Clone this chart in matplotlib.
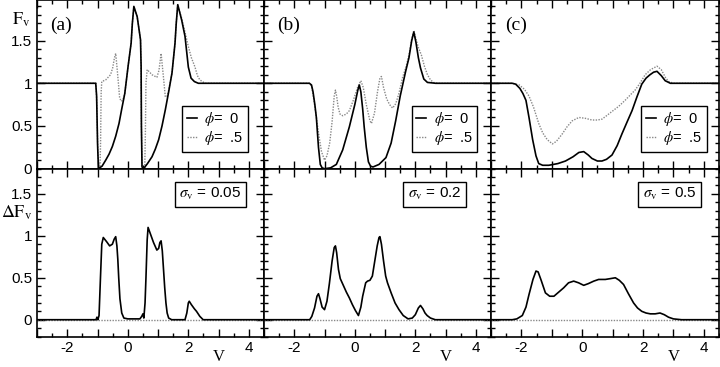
import matplotlib
matplotlib.use("Agg")
import matplotlib.pyplot as plt
from matplotlib.ticker import MultipleLocator, FuncFormatter
from matplotlib.lines import Line2D

plt.rcParams['font.family'] = ['Liberation Sans', 'DejaVu Sans']
plt.rcParams['mathtext.fontset'] = 'stix'

# ---------------- data ----------------
# Panel (a) top: sigma_v = 0.05
a_top_phi0_x = [-3.0, -1.06, -1.03, -1.0, -0.97, -0.85, -0.73, -0.62, -0.51, -0.4, -0.29, -0.2, -0.1,
                0.01, 0.11, 0.15, 0.2, 0.31, 0.42, 0.44, 0.45, 0.47, 0.52, 0.65, 0.8, 0.91, 1.02,
                1.13, 1.24, 1.35, 1.46, 1.56, 1.6, 1.65, 1.78, 1.89, 2.0, 2.09, 2.2, 2.33, 4.5]
a_top_phi0_y = [1.0, 1.0, 0.85, 0.3, 0.0, 0.03, 0.10, 0.17, 0.26, 0.38, 0.53, 0.7, 0.88,
                1.2, 1.47, 1.7, 1.9, 1.78, 1.51, 1.2, 0.5, 0.02, 0.0, 0.06, 0.14, 0.23, 0.34,
                0.5, 0.69, 0.9, 1.12, 1.47, 1.7, 1.92, 1.74, 1.55, 1.19, 1.06, 1.02, 1.0, 1.0]
a_top_phi5_x = [-3.0, -1.05, -1.02, -0.99, -0.96, -0.92, -0.9, -0.88, -0.86, -0.73, -0.57, -0.5, -0.44,
                -0.4, -0.36, -0.31, -0.27, -0.22, -0.17, -0.13, -0.1, 0.01, 0.11, 0.15, 0.2, 0.31,
                0.42, 0.44, 0.45, 0.47, 0.52, 0.56, 0.58, 0.6, 0.64, 0.8, 0.96, 1.03, 1.1, 1.17, 1.24,
                1.3, 1.35, 1.46, 1.56, 1.6, 1.65, 1.78, 1.89, 2.0, 2.1, 2.22, 2.3, 2.38, 2.55, 4.5]
a_top_phi5_y = [1.0, 1.0, 0.7, 0.2, 0.02, 0.0, 0.3, 0.9, 1.02, 1.04, 1.1, 1.18, 1.3,
                1.35, 1.2, 1.0, 0.83, 0.79, 0.8, 0.84, 0.88, 1.2, 1.47, 1.7, 1.9, 1.78,
                1.51, 1.2, 0.5, 0.02, 0.0, 0.01, 0.4, 1.0, 1.16, 1.1, 1.07, 1.15, 1.35, 1.1, 0.84,
                0.85, 0.92, 1.12, 1.47, 1.7, 1.92, 1.76, 1.6, 1.43, 1.3, 1.19, 1.09, 1.04, 1.0, 1.0]

# Panel (b) top: sigma_v = 0.2
b_top_phi0_x = [-3.0, -1.5, -1.43, -1.38, -1.32, -1.27, -1.2, -1.14, -1.08, -1.0, -0.8, -0.61, -0.4,
                -0.18, 0.0, 0.1, 0.15, 0.2, 0.26, 0.31, 0.38, 0.45, 0.52, 0.6, 0.8, 1.03, 1.2, 1.35,
                1.5, 1.68, 1.79, 1.88, 1.95, 2.02, 2.1, 2.17, 2.28, 2.4, 2.67, 4.5]
b_top_phi0_y = [1.0, 1.0, 0.98, 0.9, 0.75, 0.6, 0.25, 0.05, 0.01, 0.0, 0.01, 0.05, 0.22,
                0.49, 0.75, 0.92, 0.98, 0.9, 0.7, 0.49, 0.25, 0.08, 0.03, 0.02, 0.05, 0.13, 0.3, 0.56,
                0.85, 1.14, 1.3, 1.5, 1.6, 1.48, 1.3, 1.18, 1.05, 1.01, 1.0, 1.0]
b_top_phi5_x = [-3.0, -1.5, -1.43, -1.35, -1.25, -1.17, -1.1, -1.0, -0.92, -0.83, -0.75, -0.68, -0.64,
                -0.6, -0.55, -0.49, -0.4, -0.28, -0.18, -0.05, 0.1, 0.2, 0.28, 0.38, 0.5, 0.55, 0.65,
                0.75, 0.83, 0.88, 0.95, 1.05, 1.15, 1.25, 1.35, 1.45, 1.58, 1.7, 1.8, 1.88, 1.95, 2.02,
                2.1, 2.2, 2.3, 2.4, 2.5, 2.6, 2.75, 4.5]
b_top_phi5_y = [1.0, 1.0, 0.97, 0.8, 0.55, 0.35, 0.2, 0.1, 0.15, 0.3, 0.55, 0.85, 0.92,
                0.85, 0.72, 0.64, 0.62, 0.64, 0.68, 0.8, 0.96, 1.03, 0.95, 0.75, 0.56, 0.53, 0.65,
                0.9, 1.06, 1.08, 0.95, 0.82, 0.75, 0.71, 0.76, 0.87, 1.07, 1.2, 1.35, 1.52, 1.62, 1.52,
                1.42, 1.33, 1.2, 1.1, 1.04, 1.01, 1.0, 1.0]

# Panel (c) top: sigma_v = 0.5
c_top_phi0_x = [-3.0, -2.3, -2.19, -2.05, -1.95, -1.85, -1.75, -1.63, -1.52, -1.43, -1.3, -1.1, -0.8,
                -0.55, -0.3, -0.11, 0.05, 0.2, 0.32, 0.5, 0.65, 0.8, 0.98, 1.15, 1.31, 1.48, 1.64, 1.8,
                1.96, 2.1, 2.23, 2.35, 2.46, 2.6, 2.73, 2.9, 3.06, 4.5]
c_top_phi0_y = [1.0, 1.0, 0.99, 0.94, 0.88, 0.8, 0.6, 0.34, 0.15, 0.06, 0.04, 0.04, 0.06,
                0.09, 0.14, 0.19, 0.2, 0.16, 0.12, 0.09, 0.09, 0.11, 0.16, 0.27, 0.41, 0.55, 0.68, 0.84,
                0.99, 1.06, 1.1, 1.13, 1.14, 1.09, 1.03, 1.0, 1.0, 1.0]
c_top_phi5_x = [-3.0, -2.3, -2.07, -1.9, -1.75, -1.6, -1.43, -1.3, -1.15, -0.98, -0.85, -0.65, -0.5,
                -0.33, -0.11, 0.1, 0.32, 0.5, 0.65, 0.8, 0.98, 1.2, 1.41, 1.6, 1.74, 1.9, 2.07, 2.25,
                2.46, 2.6, 2.75, 2.85, 3.0, 4.5]
c_top_phi5_y = [1.0, 1.0, 0.98, 0.93, 0.85, 0.72, 0.53, 0.42, 0.34, 0.29, 0.32, 0.41, 0.49,
                0.56, 0.6, 0.59, 0.57, 0.57, 0.58, 0.62, 0.67, 0.73, 0.8, 0.87, 0.92, 1.0, 1.1, 1.16,
                1.2, 1.16, 1.06, 1.02, 1.0, 1.0]

# Bottom panels: Delta F_v
a_bot_x = [-3.0, -1.05, -1.02, -0.99, -0.95, -0.9, -0.86, -0.81, -0.7, -0.6, -0.51, -0.45, -0.4,
           -0.36, -0.33, -0.3, -0.26, -0.2, -0.13, 0.0, 0.4, 0.46, 0.5, 0.53, 0.57, 0.6, 0.64, 0.67,
           0.75, 0.85, 0.96, 1.02, 1.06, 1.1, 1.14, 1.18, 1.22, 1.26, 1.3, 1.35, 1.45, 1.89, 1.95,
           2.0, 2.03, 2.1, 2.2, 2.27, 2.38, 2.49, 4.5]
a_bot_y = [0.0, 0.0, 0.03, 0.0, 0.05, 0.53, 0.9, 0.98, 0.93, 0.88, 0.9, 0.96, 0.99,
           0.88, 0.72, 0.5, 0.25, 0.08, 0.02, 0.01, 0.01, 0.04, 0.07, 0.02, 0.2, 0.5, 0.95, 1.1,
           1.02, 0.92, 0.83, 0.85, 0.92, 0.94, 0.82, 0.6, 0.38, 0.2, 0.08, 0.02, 0.0, 0.0, 0.08,
           0.2, 0.22, 0.18, 0.13, 0.1, 0.04, 0.0, 0.0]
b_bot_x = [-3.0, -1.49, -1.42, -1.33, -1.25, -1.2, -1.15, -1.08, -1.0, -0.92, -0.84, -0.75, -0.68,
           -0.64, -0.6, -0.54, -0.48, -0.38, -0.28, -0.18, -0.08, 0.02, 0.12, 0.2, 0.26, 0.31,
           0.36, 0.42, 0.5, 0.58, 0.66, 0.74, 0.8, 0.83, 0.88, 0.95, 1.02, 1.08, 1.2, 1.33, 1.46,
           1.6, 1.76, 1.9, 2.0, 2.1, 2.17, 2.25, 2.32, 2.39, 2.5, 2.66, 4.5]
b_bot_y = [0.0, 0.0, 0.04, 0.14, 0.28, 0.31, 0.25, 0.15, 0.12, 0.22, 0.43, 0.7, 0.86,
           0.88, 0.8, 0.6, 0.49, 0.41, 0.33, 0.26, 0.18, 0.11, 0.05, 0.15, 0.28, 0.36,
           0.44, 0.46, 0.47, 0.52, 0.7, 0.88, 0.98, 0.99, 0.9, 0.7, 0.52, 0.44, 0.32, 0.2, 0.12,
           0.05, 0.01, 0.02, 0.06, 0.14, 0.17, 0.13, 0.08, 0.05, 0.02, 0.0, 0.0]
c_bot_x = [-3.0, -2.3, -2.15, -1.97, -1.85, -1.75, -1.62, -1.52, -1.45, -1.35, -1.21, -1.07, -0.93,
           -0.77, -0.61, -0.45, -0.28, -0.12, 0.05, 0.2, 0.38, 0.54, 0.76, 0.93, 1.09, 1.22, 1.36,
           1.52, 1.69, 1.82, 1.96, 2.1, 2.24, 2.4, 2.56, 2.7, 2.84, 3.0, 3.27, 4.5]
c_bot_y = [0.0, 0.0, 0.01, 0.05, 0.15, 0.3, 0.48, 0.58, 0.57, 0.47, 0.32, 0.28, 0.28,
           0.33, 0.38, 0.44, 0.46, 0.44, 0.41, 0.43, 0.46, 0.48, 0.48, 0.49, 0.5, 0.47, 0.42,
           0.31, 0.2, 0.14, 0.1, 0.08, 0.07, 0.07, 0.08, 0.06, 0.03, 0.01, 0.0, 0.0]

panel_labels = ['(a)', '(b)', '(c)']
sigma_labels = ['0.05', '0.2', '0.5']
legend_labels = [r'$\phi$=  0', r'$\phi$=  .5']

top_data = [(a_top_phi0_x, a_top_phi0_y, a_top_phi5_x, a_top_phi5_y),
            (b_top_phi0_x, b_top_phi0_y, b_top_phi5_x, b_top_phi5_y),
            (c_top_phi0_x, c_top_phi0_y, c_top_phi5_x, c_top_phi5_y)]
bot_data = [(a_bot_x, a_bot_y), (b_bot_x, b_bot_y), (c_bot_x, c_bot_y)]

# ---------------- figure ----------------
W, H = 720, 367
fig = plt.figure(figsize=(W / 100, H / 100), dpi=100)

lefts = [37, 264, 491]
rights = [264, 491, 719]
top_y0, top_y1 = 0, 168.7
bot_y0, bot_y1 = 168.7, 336.5

legend_right = [0.93, 0.94, 0.947]
sigma_right = [0.9, 0.87, 0.9]

def style(ax, ylab):
    ax.tick_params(which='both', direction='in', top=True, right=True, labelsize=11)
    ax.tick_params(which='major', length=6, width=1)
    ax.tick_params(which='minor', length=3, width=1)
    ax.xaxis.set_major_locator(MultipleLocator(1))
    ax.xaxis.set_minor_locator(MultipleLocator(0.5))
    ax.yaxis.set_major_locator(MultipleLocator(0.5))
    ax.yaxis.set_minor_locator(MultipleLocator(0.1))
    ax.xaxis.set_major_formatter(FuncFormatter(lambda v, p: f'{v:g}' if abs(v % 2) < 1e-6 else ''))
    if ylab:
        ax.yaxis.set_major_formatter(FuncFormatter(lambda v, p: f'{v:g}'))
    else:
        ax.yaxis.set_major_formatter(FuncFormatter(lambda v, p: ''))
    for s in ax.spines.values():
        s.set_linewidth(1.2)

for i in range(3):
    l = lefts[i] / W
    w = (rights[i] - lefts[i]) / W
    # top
    axt = fig.add_axes([l, 1 - top_y1 / H, w, (top_y1 - top_y0) / H])
    x0, y0, x5, y5 = top_data[i]
    axt.plot(x5, y5, color='#888888', lw=1.0, ls=(0, (1, 1)))
    axt.plot(x0, y0, color='black', lw=1.2)
    axt.set_xlim(-3, 4.5)
    axt.set_ylim(0, 1.975)
    style(axt, i == 0)
    axt.xaxis.set_major_formatter(FuncFormatter(lambda v, p: ''))
    axt.text(0.06, 0.85, panel_labels[i], transform=axt.transAxes, fontsize=14,
             family='Liberation Serif', va='center', ha='left')
    handles = [Line2D([], [], color='black', lw=1.2),
               Line2D([], [], color='#888888', lw=1.0, ls=(0, (1, 1)))]
    leg = axt.legend(handles, legend_labels, loc='lower right',
                     bbox_to_anchor=(legend_right[i], 0.1), borderaxespad=0,
                     handlelength=0.7, handletextpad=0.5, borderpad=0.3,
                     labelspacing=0.1, fontsize=10.5, fancybox=False, framealpha=1)
    leg.get_frame().set_edgecolor('black')
    leg.get_frame().set_linewidth(1.0)

    # bottom
    axb = fig.add_axes([l, 1 - bot_y1 / H, w, (bot_y1 - bot_y0) / H])
    bx, by = bot_data[i]
    axb.plot([-3, 4.5], [0, 0], color='#888888', lw=1.0, ls=(0, (1, 1)))
    axb.plot(bx, by, color='black', lw=1.2)
    axb.set_xlim(-3, 4.5)
    axb.set_ylim(-0.2, 1.8)
    style(axb, i == 0)
    axb.text(sigma_right[i], 0.847, r'$\sigma_{\mathrm{v}}$ = ' + sigma_labels[i],
             transform=axb.transAxes, ha='right', va='center', fontsize=11,
             bbox=dict(boxstyle='square,pad=0.3', fc='white', ec='black', lw=1.0))
    axb.text(3.0, -0.45, 'V', fontsize=12, family='Liberation Serif', ha='center', va='center')

fig.text(12 / W, 1 - 20 / H, r'$\mathrm{F}_{\mathrm{v}}$', fontsize=13, ha='left', va='center')
fig.text(1 / W, 1 - 213 / H, r'$\Delta\mathrm{F}_{\mathrm{v}}$', fontsize=13, ha='left', va='center')

fig.savefig('out.png', dpi=100)
